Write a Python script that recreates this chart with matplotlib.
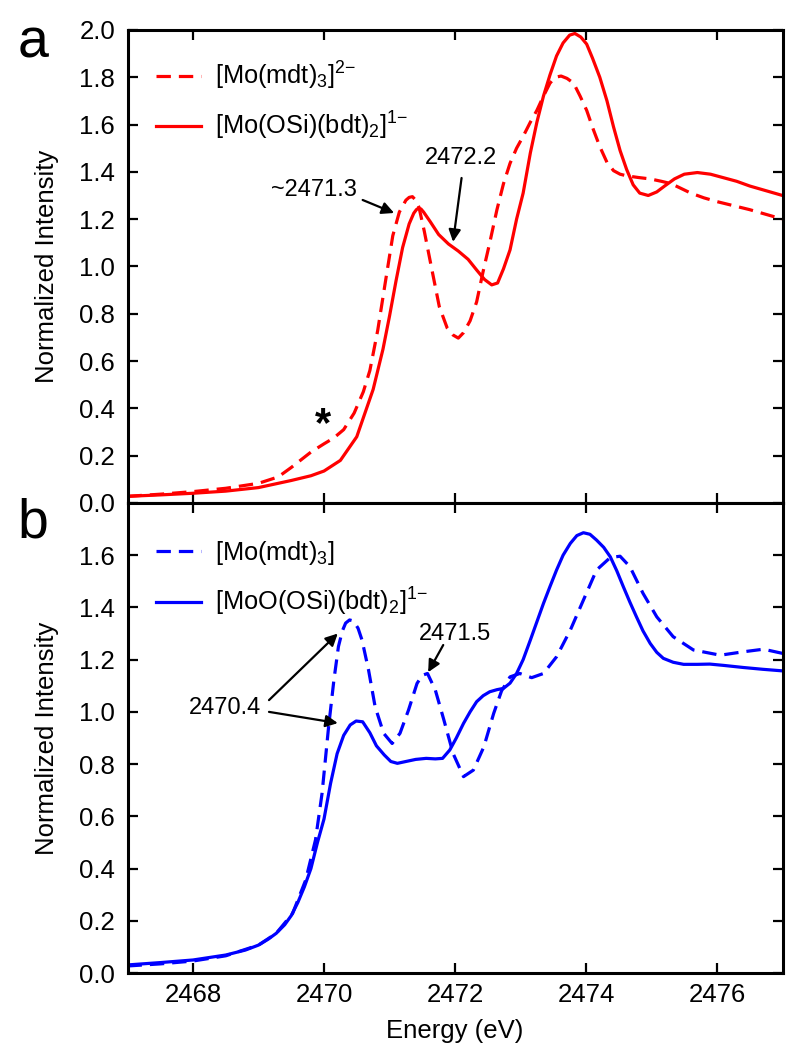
import matplotlib
matplotlib.use("Agg")
import matplotlib.pyplot as plt

plt.rcParams['font.family'] = ['Liberation Sans', 'DejaVu Sans']
plt.rcParams['mathtext.fontset'] = 'custom'
plt.rcParams['mathtext.rm'] = 'Liberation Sans'
plt.rcParams['mathtext.it'] = 'Liberation Sans:italic'
plt.rcParams['mathtext.default'] = 'regular'

# panel a : [Mo(OSi)(bdt)2]1- (solid)
e_a_solid = [2467.0, 2467.5, 2468.0, 2468.5, 2469.0, 2469.5, 2469.8, 2470.0, 2470.25, 2470.5,
             2470.75, 2470.9, 2471.0, 2471.1, 2471.2, 2471.3, 2471.37, 2471.41, 2471.44, 2471.48,
             2471.52, 2471.62, 2471.75, 2471.9, 2472.05, 2472.2, 2472.33, 2472.45, 2472.56, 2472.65,
             2472.74, 2472.84, 2472.94, 2473.04, 2473.15, 2473.25, 2473.35, 2473.45, 2473.55, 2473.65,
             2473.75, 2473.83, 2473.92, 2474.01, 2474.1, 2474.21, 2474.32, 2474.42, 2474.52, 2474.62,
             2474.72, 2474.82, 2474.95, 2475.08, 2475.2, 2475.35, 2475.5, 2475.7, 2475.9, 2476.1,
             2476.3, 2476.5, 2476.75, 2477.0]
i_a_solid = [0.028, 0.034, 0.041, 0.050, 0.065, 0.095, 0.115, 0.135, 0.18, 0.28,
             0.48, 0.65, 0.79, 0.94, 1.08, 1.18, 1.225, 1.24, 1.246, 1.243,
             1.23, 1.19, 1.135, 1.095, 1.065, 1.03, 0.985, 0.945, 0.922, 0.93,
             0.99, 1.07, 1.20, 1.31, 1.48, 1.61, 1.72, 1.81, 1.89, 1.945,
             1.978, 1.985, 1.97, 1.94, 1.88, 1.80, 1.70, 1.59, 1.49, 1.41,
             1.345, 1.31, 1.30, 1.315, 1.34, 1.37, 1.39, 1.397, 1.39, 1.375,
             1.36, 1.34, 1.32, 1.30]

# panel a : [Mo(mdt)3]2- (dashed)
e_a_dash = [2467.0, 2467.5, 2468.0, 2468.5, 2469.0, 2469.3, 2469.5, 2469.8, 2470.0, 2470.15,
            2470.3, 2470.46, 2470.6, 2470.7, 2470.82, 2470.94, 2471.05, 2471.15, 2471.25, 2471.3,
            2471.35, 2471.4, 2471.45, 2471.53, 2471.63, 2471.76, 2471.88, 2471.97, 2472.05, 2472.13,
            2472.23, 2472.33, 2472.43, 2472.53, 2472.64, 2472.74, 2472.84, 2472.94, 2473.04, 2473.15,
            2473.25, 2473.35, 2473.45, 2473.53, 2473.62, 2473.71, 2473.81, 2473.91, 2474.01, 2474.11,
            2474.21, 2474.32, 2474.42, 2474.52, 2474.62, 2474.8, 2474.98, 2475.15, 2475.3, 2475.45,
            2475.6, 2475.8, 2476.0, 2476.25, 2476.5, 2476.75, 2477.0]
i_a_dash = [0.028, 0.037, 0.048, 0.062, 0.083, 0.11, 0.15, 0.215, 0.25, 0.275,
            0.31, 0.38, 0.47, 0.56, 0.73, 0.94, 1.13, 1.23, 1.28, 1.292,
            1.295, 1.28, 1.25, 1.15, 1.01, 0.83, 0.74, 0.71, 0.697, 0.72,
            0.77, 0.85, 0.98, 1.10, 1.24, 1.35, 1.436, 1.50, 1.55, 1.61,
            1.66, 1.72, 1.775, 1.80, 1.805, 1.795, 1.775, 1.72, 1.66, 1.58,
            1.507, 1.44, 1.405, 1.39, 1.383, 1.376, 1.37, 1.36, 1.35, 1.33,
            1.31, 1.29, 1.274, 1.257, 1.24, 1.22, 1.20]

# panel b : [MoO(OSi)(bdt)2]1- (solid)
e_b_solid = [2467.0, 2467.5, 2468.0, 2468.5, 2468.8, 2469.0, 2469.15, 2469.27, 2469.4, 2469.5,
             2469.6, 2469.7, 2469.8, 2469.9, 2470.0, 2470.1, 2470.2, 2470.3, 2470.4, 2470.49,
             2470.59, 2470.7, 2470.8, 2470.92, 2471.02, 2471.12, 2471.25, 2471.4, 2471.56, 2471.7,
             2471.81, 2471.92, 2472.02, 2472.13, 2472.23, 2472.33, 2472.43, 2472.53, 2472.64, 2472.74,
             2472.84, 2472.94, 2473.04, 2473.15, 2473.25, 2473.35, 2473.45, 2473.55, 2473.65, 2473.76,
             2473.86, 2473.96, 2474.06, 2474.16, 2474.27, 2474.37, 2474.47, 2474.57, 2474.67, 2474.77,
             2474.87, 2474.98, 2475.08, 2475.18, 2475.33, 2475.49, 2475.7, 2475.89, 2476.1, 2476.4,
             2476.7, 2477.0]
i_b_solid = [0.031, 0.04, 0.05, 0.069, 0.088, 0.107, 0.13, 0.152, 0.185, 0.22,
             0.27, 0.33, 0.40, 0.50, 0.59, 0.726, 0.84, 0.91, 0.95, 0.965,
             0.962, 0.92, 0.87, 0.835, 0.81, 0.803, 0.81, 0.818, 0.822, 0.82,
             0.822, 0.854, 0.90, 0.956, 1.0, 1.039, 1.062, 1.077, 1.085, 1.09,
             1.11, 1.147, 1.20, 1.275, 1.345, 1.415, 1.48, 1.543, 1.60, 1.645,
             1.675, 1.686, 1.68, 1.658, 1.63, 1.594, 1.54, 1.479, 1.42, 1.364,
             1.31, 1.262, 1.228, 1.205, 1.19, 1.182, 1.182, 1.183, 1.178, 1.17,
             1.163, 1.157]

# panel b : [Mo(mdt)3] (dashed)
e_b_dash = [2467.0, 2467.5, 2468.0, 2468.5, 2469.0, 2469.27, 2469.52, 2469.72, 2469.87, 2469.97,
            2470.07, 2470.15, 2470.22, 2470.28, 2470.33, 2470.39, 2470.45, 2470.52, 2470.58, 2470.68,
            2470.78, 2470.91, 2471.04, 2471.16, 2471.29, 2471.42, 2471.5, 2471.58, 2471.7, 2471.83,
            2471.97, 2472.13, 2472.28, 2472.44, 2472.59, 2472.71, 2472.84, 2472.99, 2473.17, 2473.35,
            2473.55, 2473.76, 2473.96, 2474.16, 2474.37, 2474.52, 2474.67, 2474.87, 2475.08, 2475.33,
            2475.64, 2476.05, 2476.4, 2476.71, 2477.0]
i_b_dash = [0.027, 0.035, 0.046, 0.066, 0.107, 0.152, 0.228, 0.356, 0.51, 0.688,
            0.943, 1.12, 1.25, 1.31, 1.34, 1.352, 1.348, 1.32, 1.275, 1.16,
            1.02, 0.918, 0.879, 0.918, 1.007, 1.109, 1.14, 1.147, 1.083, 0.969,
            0.841, 0.752, 0.777, 0.866, 0.994, 1.08, 1.134, 1.147, 1.131, 1.147,
            1.211, 1.313, 1.428, 1.543, 1.591, 1.596, 1.556, 1.454, 1.364, 1.288,
            1.237, 1.217, 1.23, 1.24, 1.224]

xticks = [2468, 2470, 2472, 2474, 2476]
yticks_a = [0.0, 0.2, 0.4, 0.6, 0.8, 1.0, 1.2, 1.4, 1.6, 1.8, 2.0]
yticks_b = [0.0, 0.2, 0.4, 0.6, 0.8, 1.0, 1.2, 1.4, 1.6]

lab_a_dash = '[Mo(mdt)$_3$]$^{\\text{2\u2212}}$'
lab_a_solid = '[Mo(OSi)(bdt)$_2$]$^{\\text{1\u2212}}$'
lab_b_dash = '[Mo(mdt)$_3$]'
lab_b_solid = '[MoO(OSi)(bdt)$_2$]$^{\\text{1\u2212}}$'

fig = plt.figure(figsize=(8.03, 10.5), dpi=100)
ax1 = fig.add_axes([0.1588, 0.5210, 0.8157, 0.4505])
ax2 = fig.add_axes([0.1588, 0.0733, 0.8157, 0.4477], sharex=ax1)

lw = 2.3
ax1.plot(e_a_dash, i_a_dash, color='red', lw=lw, dashes=(4.5, 2.5), label=lab_a_dash)
ax1.plot(e_a_solid, i_a_solid, color='red', lw=lw, label=lab_a_solid)
ax2.plot(e_b_dash, i_b_dash, color='blue', lw=lw, dashes=(4.5, 2.5), label=lab_b_dash)
ax2.plot(e_b_solid, i_b_solid, color='blue', lw=lw, label=lab_b_solid)

for ax in (ax1, ax2):
    ax.set_xlim(2467, 2477)
    ax.set_xticks(xticks)
    ax.tick_params(direction='in', top=True, right=True, length=7, width=1.6,
                   labelsize=18.5, pad=9)
    for s in ax.spines.values():
        s.set_linewidth(2.2)
    ax.set_ylabel('Normalized Intensity', fontsize=18.5)
    ax.yaxis.set_label_coords(-0.105, 0.5)

ax1.legend(loc='upper left', bbox_to_anchor=(0.044, 0.937), frameon=False,
           fontsize=18.3, handlelength=1.75, handletextpad=0.55, labelspacing=0.72,
           borderpad=0, borderaxespad=0)
ax2.legend(loc='upper left', bbox_to_anchor=(0.044, 0.924), frameon=False,
           fontsize=18.3, handlelength=1.75, handletextpad=0.55, labelspacing=0.76,
           borderpad=0, borderaxespad=0)

ax1.set_ylim(0, 2.0)
ax1.set_yticks(yticks_a)
ax1.set_yticklabels(['%.1f' % v for v in yticks_a])
ax1.tick_params(labelbottom=False)
ax2.set_ylim(0, 1.8)
ax2.set_yticks(yticks_b)
ax2.set_yticklabels(['%.1f' % v for v in yticks_b])
ax2.tick_params(axis='x', pad=7)
ax2.set_xticklabels([str(v) for v in xticks])
ax2.set_xlabel('Energy (eV)', fontsize=18.5, labelpad=9)

arrow = dict(arrowstyle='-|>', color='black', lw=1.6, mutation_scale=18,
             shrinkA=0, shrinkB=0)

# panel a annotations
ax1.text(2470.50, 1.323, '~2471.3', fontsize=17, ha='right', va='center')
ax1.annotate('', xy=(2471.07, 1.226), xytext=(2470.59, 1.281), arrowprops=arrow)
ax1.text(2472.09, 1.459, '2472.2', fontsize=17, ha='center', va='center')
ax1.annotate('', xy=(2471.97, 1.104), xytext=(2472.10, 1.374), arrowprops=arrow)
ax1.text(2469.98, 0.33, '*', fontsize=30, fontweight='bold', ha='center', va='center')

# panel b annotations
ax2.text(2469.04, 1.015, '2470.4', fontsize=17, ha='right', va='center')
ax2.annotate('', xy=(2470.21, 1.30), xytext=(2469.16, 1.045), arrowprops=arrow)
ax2.annotate('', xy=(2470.21, 0.957), xytext=(2469.16, 1.0), arrowprops=arrow)
ax2.text(2472.0, 1.30, '2471.5', fontsize=17, ha='center', va='center')
ax2.annotate('', xy=(2471.59, 1.152), xytext=(2471.82, 1.256), arrowprops=arrow)

fig.text(33 / 803, 1 - 44 / 1050, 'a', fontsize=40, ha='center', va='center')
fig.text(33 / 803, 1 - 524 / 1050, 'b', fontsize=40, ha='center', va='center')

fig.savefig('out.png', dpi=100)
